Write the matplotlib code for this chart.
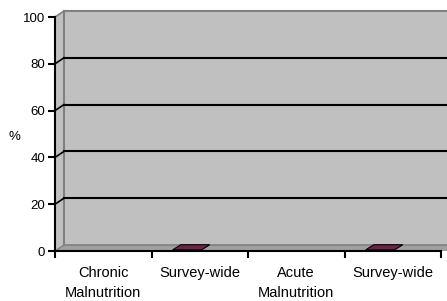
import matplotlib
matplotlib.use('Agg')
import matplotlib.pyplot as plt
from matplotlib.patches import Polygon
import numpy as np

categories = ['Chronic\nMalnutrition', 'Survey-wide', 'Acute\nMalnutrition', 'Survey-wide']
values = [np.nan, 0.5, np.nan, 0.5]
yticks = [0, 20, 40, 60, 80, 100]

plt.rcParams['font.family'] = ['Liberation Sans', 'DejaVu Sans']

W, H = 447, 301
fig = plt.figure(figsize=(W / 100, H / 100), dpi=100)
# front plane: x 55..441 px, y 251..17 px (from top)
ax = fig.add_axes([55 / W, (H - 251) / H, (441 - 55) / W, (251 - 17) / H])
n = len(categories)
ax.set_xlim(0, n)
ax.set_ylim(0, 100)

# depth offset in data units (about 9 px right, 6 px up)
DX = 9 / 386 * n
DY = 6 / 234 * 100
wall_gray = '#c0c0c0'
edge_gray = '#808080'
xr = n + 0.5

# back wall
ax.add_patch(Polygon([(DX, DY), (xr, DY), (xr, 100 + DY), (DX, 100 + DY)],
                     closed=True, fc=wall_gray, ec='none', clip_on=False, zorder=1))
# side wall
ax.add_patch(Polygon([(0, 0), (DX, DY), (DX, 100 + DY), (0, 100)],
                     closed=True, fc=wall_gray, ec='none', clip_on=False, zorder=1))
# floor
ax.add_patch(Polygon([(0, 0), (xr, 0), (xr, DY), (DX, DY)],
                     closed=True, fc='#a0a0a0', ec='none', clip_on=False, zorder=1))
# wall edges
ax.plot([DX, DX], [DY, 100 + DY], color=edge_gray, lw=1.5, clip_on=False, zorder=2)
ax.plot([DX, xr], [100 + DY, 100 + DY], color=edge_gray, lw=1.5, clip_on=False, zorder=2)
ax.plot([0, DX], [100, 100 + DY], color=edge_gray, lw=1.2, clip_on=False, zorder=2)
ax.plot([DX, xr], [DY, DY], color=edge_gray, lw=1.2, clip_on=False, zorder=2)
ax.plot([0, DX], [0, DY], color=edge_gray, lw=1.0, clip_on=False, zorder=2)

# gridlines on back wall + diagonals on side wall
for v in yticks[1:-1]:
    ax.plot([DX, xr], [v + DY, v + DY], color='black', lw=1.5, clip_on=False, zorder=2)
    ax.plot([0, DX], [v, v + DY], color='black', lw=1.2, clip_on=False, zorder=2)

# bars (flat, near zero)
bar_col = '#6e2448'
bw = 0.30
shift = -0.13
for i, v in enumerate(values):
    if np.isnan(v):
        continue
    x0 = i + 0.5 + shift - bw / 2
    x1 = x0 + bw
    ax.add_patch(Polygon([(x0, v), (x1, v), (x1 + DX * 0.9, v + DY * 0.85), (x0 + DX * 0.9, v + DY * 0.85)],
                         closed=True, fc=bar_col, ec='black', lw=0.8, clip_on=False, zorder=3))

for s in ['top', 'right']:
    ax.spines[s].set_visible(False)
ax.spines['left'].set_linewidth(1.5)
ax.spines['bottom'].set_linewidth(1.5)
ax.spines['left'].set_zorder(4)
ax.spines['bottom'].set_zorder(4)
ax.patch.set_visible(False)

ax.set_yticks(yticks)
ax.set_yticklabels([str(t) for t in yticks], fontsize=9.5)
ax.set_xticks(np.arange(n + 1))
ax.set_xticklabels([])
ax.set_xticks(np.arange(n) + 0.5, minor=True)
ax.set_xticklabels(categories, minor=True, fontsize=10.5, linespacing=1.55)
ax.tick_params(axis='both', which='major', length=5, width=1.5, direction='out')
ax.tick_params(axis='x', which='minor', length=0, pad=11)
ax.tick_params(axis='y', pad=2)

fig.text(14 / W, (H - 137) / H, '%', fontsize=9.5, ha='center', va='center')

fig.savefig('out.png', dpi=100)
